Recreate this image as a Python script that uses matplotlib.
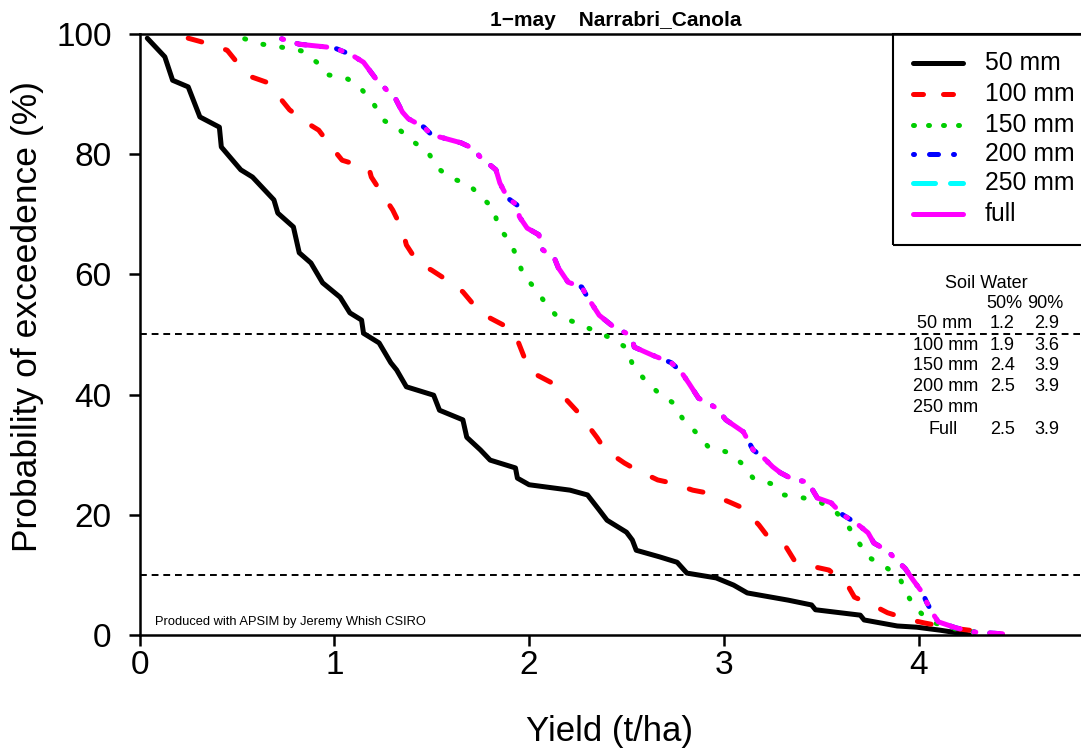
import matplotlib.pyplot as plt
from matplotlib.lines import Line2D
from matplotlib.patches import Rectangle

plt.rcParams['font.family'] = ['Liberation Sans', 'DejaVu Sans']

W, H = 1081, 751

# yield (t/ha) against probability of exceedence (%) for each starting soil water
yld_50 = [0.04, 0.13, 0.17, 0.25, 0.31, 0.41, 0.42, 0.52, 0.58, 0.69, 0.71, 0.79, 0.82, 0.88,
          0.94, 1.03, 1.08, 1.14, 1.15, 1.23, 1.29, 1.32, 1.37, 1.42, 1.51, 1.54, 1.66, 1.68,
          1.75, 1.80, 1.93, 1.94, 2.00, 2.21, 2.30, 2.36, 2.40, 2.50, 2.53, 2.55, 2.67, 2.76,
          2.81, 2.96, 3.05, 3.12, 3.33, 3.45, 3.47, 3.70, 3.72, 3.89, 3.99, 4.11, 4.23, 4.26]
exc_50 = [99.3, 96.2, 92.3, 91.2, 86.2, 84.5, 81.2, 77.4, 76.2, 72.4, 70.2, 67.9, 63.6, 61.9,
          58.6, 56.2, 53.6, 52.4, 50.2, 48.6, 45.3, 44.1, 41.3, 40.8, 39.9, 37.4, 35.8, 32.9,
          30.8, 29.1, 27.8, 26.1, 25.0, 24.1, 23.3, 20.8, 19.1, 17.1, 15.8, 14.1, 13.0, 12.1,
          10.3, 9.5, 8.3, 7.0, 5.8, 5.0, 4.2, 3.3, 2.5, 1.5, 1.3, 0.8, 0.2, 0.0]

yld_100 = [0.25, 0.34, 0.45, 0.50, 0.58, 0.65, 0.72, 0.77, 0.85, 0.92, 0.99, 1.04, 1.15, 1.18,
           1.19, 1.25, 1.30, 1.35, 1.37, 1.43, 1.50, 1.60, 1.66, 1.73, 1.79, 1.89, 1.94, 1.98,
           2.02, 2.12, 2.17, 2.25, 2.29, 2.35, 2.39, 2.49, 2.55, 2.66, 2.73, 2.84, 2.92, 3.03,
           3.10, 3.18, 3.22, 3.32, 3.36, 3.47, 3.54, 3.64, 3.67, 3.78, 3.84, 3.96, 4.03, 4.16, 4.43]
exc_100 = [99.3, 98.5, 97.3, 95.3, 92.8, 92.0, 89.4, 87.4, 85.4, 84.0, 81.0, 79.0, 77.9, 77.4,
           76.2, 73.2, 70.7, 67.4, 64.9, 61.9, 60.7, 58.6, 57.1, 54.4, 52.9, 51.2, 49.1, 45.8,
           43.6, 41.9, 39.9, 37.1, 35.4, 32.8, 30.8, 28.6, 27.5, 25.8, 25.3, 24.1, 23.6, 22.1,
           21.1, 18.3, 16.6, 14.6, 12.5, 11.3, 10.8, 8.0, 6.3, 4.7, 3.7, 2.5, 2.0, 1.2, 0.1]

yld_150 = [0.54, 0.63, 0.73, 0.83, 0.91, 0.97, 1.07, 1.14, 1.20, 1.25, 1.33, 1.40, 1.48, 1.53,
           1.60, 1.69, 1.75, 1.82, 1.84, 1.90, 1.94, 1.97, 2.03, 2.08, 2.14, 2.23, 2.33, 2.42,
           2.50, 2.53, 2.59, 2.66, 2.74, 2.79, 2.86, 2.92, 3.02, 3.09, 3.15, 3.25, 3.31, 3.41,
           3.50, 3.58, 3.64, 3.69, 3.74, 3.83, 3.90, 3.94, 3.99, 4.06, 4.21, 4.37]
exc_150 = [99.2, 98.3, 97.8, 97.2, 95.3, 93.2, 92.5, 90.8, 88.5, 85.7, 84.2, 82.2, 80.4, 77.7,
           76.0, 75.0, 73.0, 70.9, 67.9, 65.6, 62.7, 59.9, 57.7, 55.4, 53.1, 52.1, 50.7, 49.4,
           47.8, 45.1, 42.6, 40.4, 38.6, 35.9, 33.6, 31.3, 30.4, 28.6, 26.1, 25.1, 23.3, 22.8,
           22.0, 20.3, 18.0, 15.5, 13.0, 11.3, 9.7, 6.7, 4.3, 2.2, 0.8, 0.2]

yld_full = [0.73, 0.82, 1.00, 1.09, 1.15, 1.21, 1.28, 1.31, 1.35, 1.38, 1.46, 1.50, 1.56, 1.65,
            1.71, 1.75, 1.83, 1.85, 1.89, 1.94, 1.95, 1.99, 2.05, 2.07, 2.13, 2.15, 2.20, 2.27,
            2.30, 2.36, 2.44, 2.50, 2.53, 2.54, 2.63, 2.73, 2.78, 2.82, 2.87, 2.96, 3.01, 3.10,
            3.15, 3.20, 3.25, 3.29, 3.36, 3.43, 3.48, 3.55, 3.61, 3.68, 3.74, 3.77, 3.84, 3.90,
            3.93, 3.97, 4.02, 4.04, 4.07, 4.10, 4.19, 4.28, 4.43]
exc_full = [99.2, 98.3, 97.7, 96.5, 95.3, 92.7, 90.3, 89.5, 87.0, 85.9, 84.5, 83.2, 82.7, 81.9,
            81.0, 79.5, 77.4, 75.2, 72.7, 71.5, 69.6, 67.7, 66.6, 64.1, 62.7, 61.1, 58.7, 57.9,
            56.2, 53.2, 51.1, 50.2, 49.0, 47.9, 46.6, 45.3, 43.8, 41.9, 39.4, 37.8, 35.8, 33.8,
            30.8, 29.6, 28.0, 27.0, 25.8, 25.5, 22.8, 22.0, 20.0, 18.6, 17.0, 15.3, 14.0, 12.0,
            11.1, 9.2, 7.0, 5.5, 3.7, 2.2, 1.2, 0.5, 0.2]

# 200 mm curve sits exactly under the full profile curve
yld_200 = list(yld_full)
exc_200 = list(exc_full)
# no 250 mm curve is drawn
yld_250 = []
exc_250 = []

labels = ['50 mm', '100 mm', '150 mm', '200 mm', '250 mm', 'full']
colors = ['black', 'red', '#00CD00', 'blue', 'cyan', 'magenta']
dash_styles = [None, (2.8, 5.0), (0.2, 3.6), (0.2, 3.0, 1.8, 3.0), (4.4, 3.0), (0.4, 2.8, 6.0, 2.8)]
legend_dashes = [None, (2.0, 4.0), (0.2, 2.8), (0.2, 3.0, 1.8, 3.0), (4.4, 3.0), None]

table_rows = ['50 mm', '100 mm', '150 mm', '200 mm', '250 mm', 'Full']
table_p50 = ['1.2', '1.9', '2.4', '2.5', '', '2.5']
table_p90 = ['2.9', '3.6', '3.9', '3.9', '', '3.9']


def fx(px):
    return px / W


def fy(py):
    return 1 - py / H


fig = plt.figure(figsize=(W / 100, H / 100), dpi=100)
ax = fig.add_axes([fx(139.5), fy(635), (1080 - 139.5) / W, (635 - 34) / H])

ax.axhline(50, color='black', lw=1.4, dashes=(3.5, 2.5), zorder=1)
ax.axhline(10, color='black', lw=1.4, dashes=(3.5, 2.5), zorder=1)

series = [(yld_50, exc_50), (yld_100, exc_100), (yld_150, exc_150),
          (yld_200, exc_200), (yld_250, exc_250), (yld_full, exc_full)]
for (x, y), c, d in zip(series, colors, dash_styles):
    kw = dict(color=c, lw=3.6, solid_capstyle='round', dash_capstyle='round',
              solid_joinstyle='round', dash_joinstyle='round', zorder=2)
    if d:
        kw['dashes'] = d
    ax.plot(x, y, **kw)

ax.set_xlim(0, (1080 - 139.5) / 194.8)
ax.set_ylim(0, 100)
ax.set_xticks([0, 1, 2, 3, 4])
ax.set_yticks([0, 20, 40, 60, 80, 100])
ax.spines['right'].set_visible(False)
for s in ['top', 'left', 'bottom']:
    ax.spines[s].set_linewidth(1.8)
ax.tick_params(direction='out', length=8, width=1.8, labelsize=24)
ax.tick_params(axis='x', pad=3)
ax.tick_params(axis='y', pad=12)

fig.text(fx(616), fy(21), '1\u2212may    Narrabri_Canola', fontsize=15, fontweight='bold',
         ha='center', va='center')
fig.text(fx(610), fy(731), 'Yield (t/ha)', fontsize=25, ha='center', va='center')
fig.text(fx(28), fy(317), 'Probability of exceedence (%)', fontsize=25.5, rotation=90,
         ha='center', va='center')
fig.text(fx(155), fy(622), 'Produced with APSIM by Jeremy Whish CSIRO', fontsize=9.3, va='center')

# legend box, its right side runs off the picture
fig.add_artist(Rectangle((fx(893), fy(245)), fx(1110) - fx(893), fy(34) - fy(245),
                         transform=fig.transFigure, fill=False, lw=1.5, edgecolor='black',
                         clip_on=False))
leg_y = [63, 94, 125, 154, 183, 214]
for yy, lab, c, d in zip(leg_y, labels, colors, legend_dashes):
    kw = dict(color=c, lw=3.6, solid_capstyle='round', dash_capstyle='round',
              transform=fig.transFigure)
    if d:
        kw['dashes'] = d
    fig.add_artist(Line2D([fx(913), fx(963)], [fy(yy), fy(yy)], **kw))
    fig.text(fx(985), fy(yy), lab, fontsize=17.8, va='center')

# soil water summary table
fig.text(fx(945), fy(283), 'Soil Water', fontsize=13, va='center')
fig.text(fx(986), fy(303), '50%', fontsize=13, va='center')
fig.text(fx(1027), fy(303), '90%', fontsize=13, va='center')
row_y = [324, 345, 366, 387, 408, 429]
row_x = [917, 913, 913, 913, 913, 929]
for yy, xx, lab, a, b in zip(row_y, row_x, table_rows, table_p50, table_p90):
    fig.text(fx(xx), fy(yy), lab, fontsize=13, va='center')
    fig.text(fx(990), fy(yy), a, fontsize=13, va='center')
    fig.text(fx(1034), fy(yy), b, fontsize=13, va='center')

fig.savefig('out.png', dpi=100)
